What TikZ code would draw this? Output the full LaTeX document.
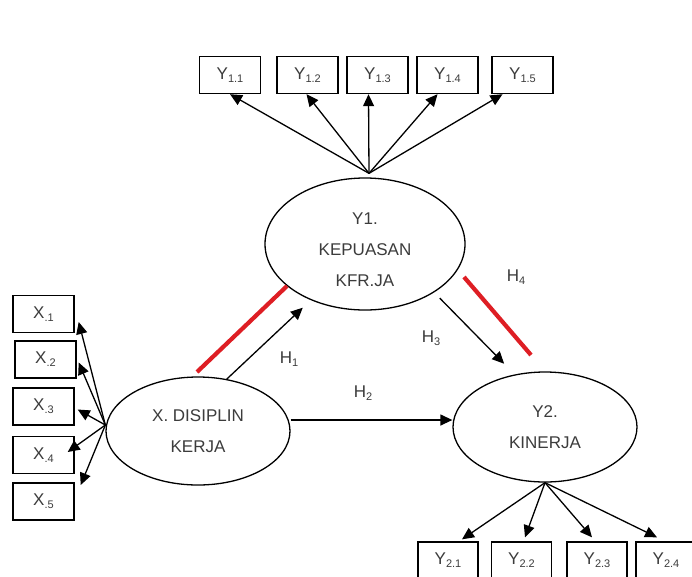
\documentclass[tikz,border=0pt]{standalone}
\usepackage{fontspec}
\setmainfont{Liberation Sans}
\usetikzlibrary{shapes.geometric,arrows.meta,calc}
\definecolor{redline}{RGB}{222,30,36}
\definecolor{inkgray}{RGB}{60,60,60}
\newcommand\lowsub[1]{\raisebox{-0.35ex}{\fontsize{11}{12}\selectfont #1}}
\begin{document}
\begin{tikzpicture}[x=1pt,y=-1pt,
 box/.style={draw,line width=1.4pt,minimum width=61pt,minimum height=37pt,inner sep=0pt,font=\fontsize{17}{19}\selectfont,text=inkgray},
 latent/.style={draw,ellipse,line width=1.3pt,inner sep=0pt,align=center,font=\fontsize{17}{31}\selectfont,text=inkgray},
 arr/.style={-{Triangle[length=12pt,width=11pt]},line width=1.3pt},
 hyp/.style={font=\fontsize{17}{19}\selectfont,text=inkgray,inner sep=0pt},
 redbar/.style={draw=redline,line width=4.2pt}]
\clip (0,0) rectangle (692,576);
\fill[white] (0,0) rectangle (692,576);
% latent variables
\node[latent,minimum width=200pt,minimum height=132pt] (Y1) at (365,244) {\raisebox{-5pt}[\height][\depth]{\begin{tabular}{@{}c@{}}Y1.\\KEPUASAN\\KFR.JA\end{tabular}}};
\node[latent,minimum width=184pt,minimum height=108pt] (X) at (198,431) {X. DISIPLIN\\KERJA};
\node[latent,minimum width=184pt,minimum height=110pt] (Y2) at (545,427) {Y2.\\KINERJA};
% Y1 indicators
\node[box] (Y11) at (230,75) {Y\lowsub{1.1}};
\node[box] (Y12) at (307.5,75) {Y\lowsub{1.2}};
\node[box] (Y13) at (377.5,75) {Y\lowsub{1.3}};
\node[box] (Y14) at (447.5,75) {Y\lowsub{1.4}};
\node[box] (Y15) at (522.5,75) {Y\lowsub{1.5}};
% X indicators
\node[box] (X1) at (43.5,314) {X\lowsub{.1}};
\node[box] (X2) at (45.5,359.5) {X\lowsub{.2}};
\node[box] (X3) at (43.5,406.5) {X\lowsub{.3}};
\node[box] (X4) at (43.5,455) {X\lowsub{.4}};
\node[box] (X5) at (43.5,501.5) {X\lowsub{.5}};
% Y2 indicators
\node[box,minimum width=60pt] (Y21) at (448,560.5) {Y\lowsub{2.1}};
\node[box,minimum width=60pt] (Y22) at (521.5,560.5) {Y\lowsub{2.2}};
\node[box,minimum width=60pt] (Y23) at (597,560.5) {Y\lowsub{2.3}};
\node[box,minimum width=60pt] (Y24) at (666,560.5) {Y\lowsub{2.4}};
% Y1 fan
\coordinate (y1o) at ([xshift=4pt,yshift=4pt]Y1.north);
\draw[arr] (y1o) -- (Y11.south);
\draw[arr] (y1o) -- ([xshift=-1pt]Y12.south);
\draw[arr] (y1o) -- ([xshift=-9pt]Y13.south);
\draw[arr] (y1o) -- ([xshift=-10pt]Y14.south);
\draw[arr] (y1o) -- ([xshift=-20pt]Y15.south);
% X fan
\coordinate (xo) at ([yshift=6pt]X.west);
\draw[arr] (xo) -- ([xshift=4pt,yshift=-8pt]X1.east);
\draw[arr] (xo) -- ([xshift=2pt,yshift=-3pt]X2.east);
\draw[arr] (xo) -- ([xshift=3pt,yshift=-3pt]X3.east);
\draw[arr] (xo) -- ([xshift=-7pt,yshift=3pt]X4.east);
\draw[arr] (xo) -- ([xshift=6pt,yshift=16.5pt]X5.east);
% Y2 fan
\draw[arr] (Y2.south) -- ([xshift=14pt,yshift=2pt]Y21.north);
\draw[arr] (Y2.south) -- ([xshift=3.5pt,yshift=4pt]Y22.north);
\draw[arr] (Y2.south) -- ([xshift=-5pt,yshift=4pt]Y23.north);
\draw[arr] (Y2.south) -- ([xshift=-9pt,yshift=4pt]Y24.north);
% structural paths
\draw[arr,shorten >=11pt] (X.61) -- (Y1.226);
\draw[arr] ([yshift=11pt]X.east) -- ([yshift=11pt]X.east -| Y2.west);
\draw[arr,shorten <=8pt,shorten >=15pt] (Y1.-35) -- (Y2.120);
% red bars
\draw[redbar] (197,372) -- (287,286);
\draw[redbar] (464,277) -- (531,355);
% labels
\node[hyp] (h1) at (289,359) {H\lowsub{1}};
\node[hyp] (h2) at (363,393) {H\lowsub{2}};
\node[hyp] (h3) at (431,338) {H\lowsub{3}};
\node[hyp] (h4) at (516,277) {H\lowsub{4}};
\end{tikzpicture}
\end{document}
